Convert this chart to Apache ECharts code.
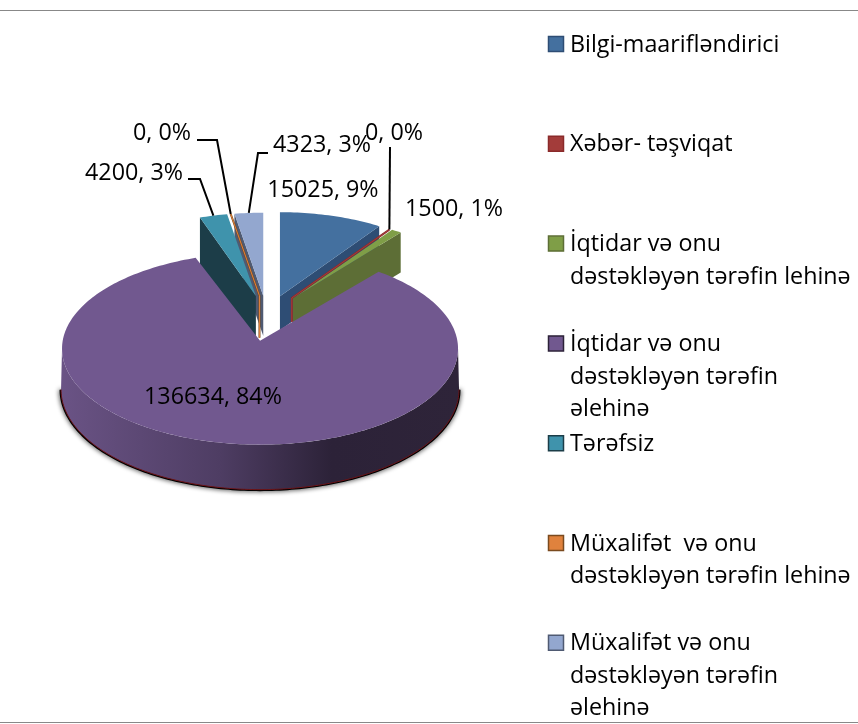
<!DOCTYPE html>
<html>
<head>
<meta charset="utf-8">
<title>pie</title>
<script src="https://cdn.jsdelivr.net/npm/echarts@6/dist/echarts.min.js"></script>
<style>
	html, body { margin: 0; padding: 0; background: #fff; }
	#main { width: 858px; height: 724px; }
</style>
</head>
<body>
<div id="main"></div>
<script>
var categories = [
	'Bilgi-maarifləndirici',
	'Xəbər- təşviqat',
	'İqtidar və onu\ndəstəkləyən tərəfin lehinə',
	'İqtidar və onu\ndəstəkləyən tərəfin\nəlehinə',
	'Tərəfsiz',
	'Müxalifət  və onu\ndəstəkləyən tərəfin lehinə',
	'Müxalifət və onu\ndəstəkləyən tərəfin\nəlehinə'
];
var values = [15025, 0, 1500, 136634, 4200, 0, 4323];
// percents as printed on the chart
var percents = [9, 0, 1, 84, 3, 0, 3];

var topColors = ['#44709f', '#a33c3a', '#7f9e47', '#71588f', '#3f93ac', '#e0823d', '#93a7cf'];
var wallColors = ['#2e4d74', '#8a2a2a', '#5d6e36', '#2c2238', '#1c3d48', '#7a4a1f', '#4f5a72'];

// pie layout
var baseX = 267, baseY = 310;
var explodeX = 45;
var explodeY = [14.4, 14.4, 14.4, 31, 14.4, 14.4, 14.4];
var radiusX = [180, 177, 180, 198, 172, 172, 172];
var radiusY = [84, 82, 82, 96, 83, 83, 83];
var depth = [34, 24, 40, 41, 50, 42, 40];
var wallEdge = ['end', 'none', 'end', 'none', 'start', 'none', 'start'];
var drawOrder = [1, 4, 3, 6, 3, 5, 2];

// label centres, and the bend of the leader line where there is one
var labelPos = [[323, 190], [394, 133], [454, 209], [213, 397], [134, 173], [162, 133], [322, 145]];
var leaderStart = [null, [390, 147], null, null, [188, 179], [197, 140], [268, 153]];
var leaderKnee = [null, null, null, null, [200, 179], [217, 140], [258, 153]];

var legendX = 548, legendY = 44, legendPitch = 99.8, lineHeight = 32.5;
var fontName = '"Open Sans"';
var labelSize = 23.3, legendSize = 23.3;

var total = values.reduce(function (a, b) { return a + b; }, 0);
var angles = [];
(function () {
	var acc = 0;
	for (var i = 0; i < values.length; i++) {
		var start = acc / total * Math.PI * 2;
		acc += values[i];
		angles.push([start, acc / total * Math.PI * 2]);
	}
})();

function ptOn(cx, cy, rx, ry, a) {
	return [cx + rx * Math.sin(a), cy - ry * Math.cos(a)];
}
function arcPts(cx, cy, rx, ry, a0, a1) {
	var n = Math.max(2, Math.ceil(Math.abs(a1 - a0) / 0.02));
	var pts = [];
	for (var i = 0; i <= n; i++) {
		pts.push(ptOn(cx, cy, rx, ry, a0 + (a1 - a0) * i / n));
	}
	return pts;
}

function renderSlice(params, api) {
	var i = params.dataIndex;
	var a0 = angles[i][0], a1 = angles[i][1], mid = (a0 + a1) / 2;
	var cx = baseX + explodeX * Math.sin(mid);
	var cy = baseY - explodeY[i] * Math.cos(mid);
	var rx = radiusX[i], ry = radiusY[i], d = depth[i];
	var z = drawOrder[i] * 10;
	var kids = [];
	var isBig = a1 - a0 > Math.PI;
	// perspective: the big slice's ellipse centre sits below its apex
	var ey = isBig ? cy + 8 : cy;

	if (isBig) {
		var lower = arcPts(cx, ey + d, rx + 1, ry + 4, Math.PI / 2, Math.PI * 1.5);
		kids.push({
			type: 'polyline', z2: z,
			shape: { points: lower },
			style: { stroke: '#000', lineWidth: 3, fill: null, shadowBlur: 5, shadowColor: '#000' }
		});
		var upper = arcPts(cx, ey, rx, ry, Math.PI * 1.5, Math.PI / 2);
		kids.push({
			type: 'polygon', z2: z + 1,
			shape: { points: lower.concat(upper) },
			style: {
				fill: new echarts.graphic.LinearGradient(0, 0, 1, 0, [
					{ offset: 0, color: '#6a5385' },
					{ offset: 0.4, color: '#4e3d63' },
					{ offset: 0.68, color: '#2c2238' },
					{ offset: 1, color: '#2e2439' }
				])
			}
		});
		kids.push({
			type: 'polyline', z2: z + 2,
			shape: { points: lower },
			style: { stroke: '#6e1418', lineWidth: 1, fill: null }
		});
	} else if (wallEdge[i] !== 'none') {
		var ea = wallEdge[i] === 'start' ? a0 : a1;
		var o = ptOn(cx, ey, rx, ry, ea);
		kids.push({
			type: 'polygon', z2: z,
			shape: { points: [[cx, cy], o, [o[0], o[1] + d], [cx, cy + d]] },
			style: { fill: wallColors[i] }
		});
	}

	if (values[i] === 0) {
		kids.push({
			type: 'polyline', z2: z + 3,
			shape: { points: [ptOn(cx, ey, rx, ry, a0), [cx, cy], [cx, cy + d]] },
			style: { stroke: wallColors[i], lineWidth: 2, fill: null }
		});
		kids.push({
			type: 'polyline', z2: z + 4,
			shape: { points: [ptOn(cx, ey, rx, ry, a0), [cx, cy], [cx, cy + d]] },
			style: { stroke: topColors[i], lineWidth: 1, fill: null }
		});
	} else {
		kids.push({
			type: 'polygon', z2: z + 3,
			shape: { points: [[cx, cy]].concat(arcPts(cx, ey, rx, ry, a0, a1)) },
			style: { fill: topColors[i] }
		});
	}

	// leader
	if (leaderStart[i]) {
		var pts = [leaderStart[i]];
		if (leaderKnee[i]) pts.push(leaderKnee[i]);
		pts.push(ptOn(cx, ey, rx, ry, mid));
		kids.push({
			type: 'polyline', z2: 200,
			shape: { points: pts },
			style: { stroke: '#000', lineWidth: 2, fill: null }
		});
	}

	kids.push({
		type: 'text', z2: 300,
		x: labelPos[i][0], y: labelPos[i][1],
		style: {
			text: api.value(0) + ', ' + percents[i] + '%',
			fill: '#000', font: labelSize + 'px ' + fontName,
			align: 'center', verticalAlign: 'middle'
		}
	});

	return { type: 'group', children: kids };
}

var graphics = [
	{ type: 'rect', shape: { x: 0, y: 10, width: 858, height: 1 }, style: { fill: '#888' } },
	{ type: 'rect', shape: { x: 0, y: 722, width: 858, height: 1 }, style: { fill: '#888' } }
];
categories.forEach(function (name, i) {
	var yy = legendY + legendPitch * i;
	graphics.push({
		type: 'rect',
		shape: { x: legendX + 0.5, y: yy - 7.5, width: 15, height: 15 },
		style: { fill: topColors[i], stroke: wallColors[i], lineWidth: 1.5 }
	});
	graphics.push({
		type: 'text',
		x: legendX + 22, y: yy - lineHeight / 2 + 1,
		style: { text: name, fill: '#000', font: legendSize + 'px ' + fontName, lineHeight: lineHeight, verticalAlign: 'top' }
	});
});

var chart = echarts.init(document.getElementById('main'));
chart.setOption({
	animation: false,
	graphic: graphics,
	series: [{
		type: 'custom',
		coordinateSystem: 'none',
		renderItem: renderSlice,
		data: values.map(function (v, i) { return { name: categories[i], value: [v] }; })
	}]
});
</script>
</body>
</html>
